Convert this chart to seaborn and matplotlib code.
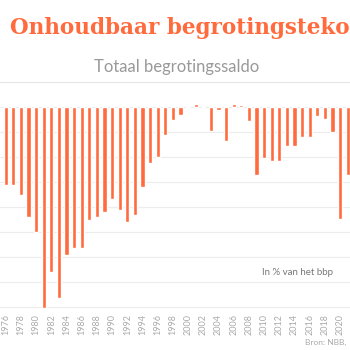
import matplotlib
matplotlib.use("Agg")
import matplotlib.pyplot as plt
from matplotlib.lines import Line2D
import seaborn as sns
import pandas as pd

years = list(range(1976, 2022))
saldo = [-6.3, -6.3, -7.1, -8.85, -10.05, -16.1, -13.2, -15.3, -11.9, -11.3,
         -11.3, -9.1, -8.85, -8.45, -7.4, -8.3, -9.2, -8.7, -6.45, -4.5,
         -4.05, -2.25, -1.06, -0.67, -0.1, 0.2, -0.05, -1.92, -0.27, -2.75,
         0.21, 0.1, -1.15, -5.44, -4.13, -4.35, -4.35, -3.17, -3.17, -2.45,
         -2.45, -0.72, -0.96, -2.05, -8.99, -5.44]
tick_years = list(range(1976, 2021, 2))

title = "Onhoudbaar begrotingstekort"
subtitle = "Totaal begrotingssaldo"
unit_label = "In % van het bbp"
source = "Bron: NBB,"

ORANGE = "#FF6B3D"

df = pd.DataFrame({"jaar": [str(y) for y in years], "saldo": saldo})

sns.set_theme(style="white")
plt.rcParams['font.family'] = ['Lato', 'DejaVu Sans']

fig = plt.figure(figsize=(3.5, 3.5), dpi=100)
ax = fig.add_axes([0, 40 / 350, 1, 215 / 350])

sns.barplot(data=df, x="jaar", y="saldo", color=ORANGE, saturation=1,
            width=0.55, ax=ax, zorder=3)

ax.set_xlim(-0.75, len(years) - 1 + 0.3)
ax.set_ylim(-16.26, 0.936)
for v in range(0, -17, -2):
    ax.axhline(v, color="#ececec", lw=0.8, zorder=1)
ax.set_yticks([])
ax.set_xlabel("")
ax.set_ylabel("")
pos = [years.index(y) for y in tick_years]
ax.set_xticks(pos)
ax.set_xticklabels([str(y) for y in tick_years], rotation=90,
                   fontsize=6.5, color="#aaaaaa")
ax.tick_params(axis="x", length=0, pad=3)
for s in ax.spines.values():
    s.set_visible(False)

fig.text(10 / 350, 0.902, title, family="DejaVu Serif", weight="bold",
         fontsize=15.5, color=ORANGE, va="baseline", ha="left")
fig.text(177 / 350, 0.794, subtitle, fontsize=12, color="#999999",
         va="baseline", ha="center")
fig.add_artist(Line2D([0, 1], [(350 - 82) / 350] * 2, color="#e6e6e6", lw=0.8))
fig.text(262 / 350, (350 - 275) / 350, unit_label, fontsize=7, color="#777777",
         va="baseline", ha="left")
fig.text(346 / 350, (350 - 345) / 350, source, fontsize=6, color="#aaaaaa",
         va="baseline", ha="right")

fig.savefig("out.png", dpi=100)
